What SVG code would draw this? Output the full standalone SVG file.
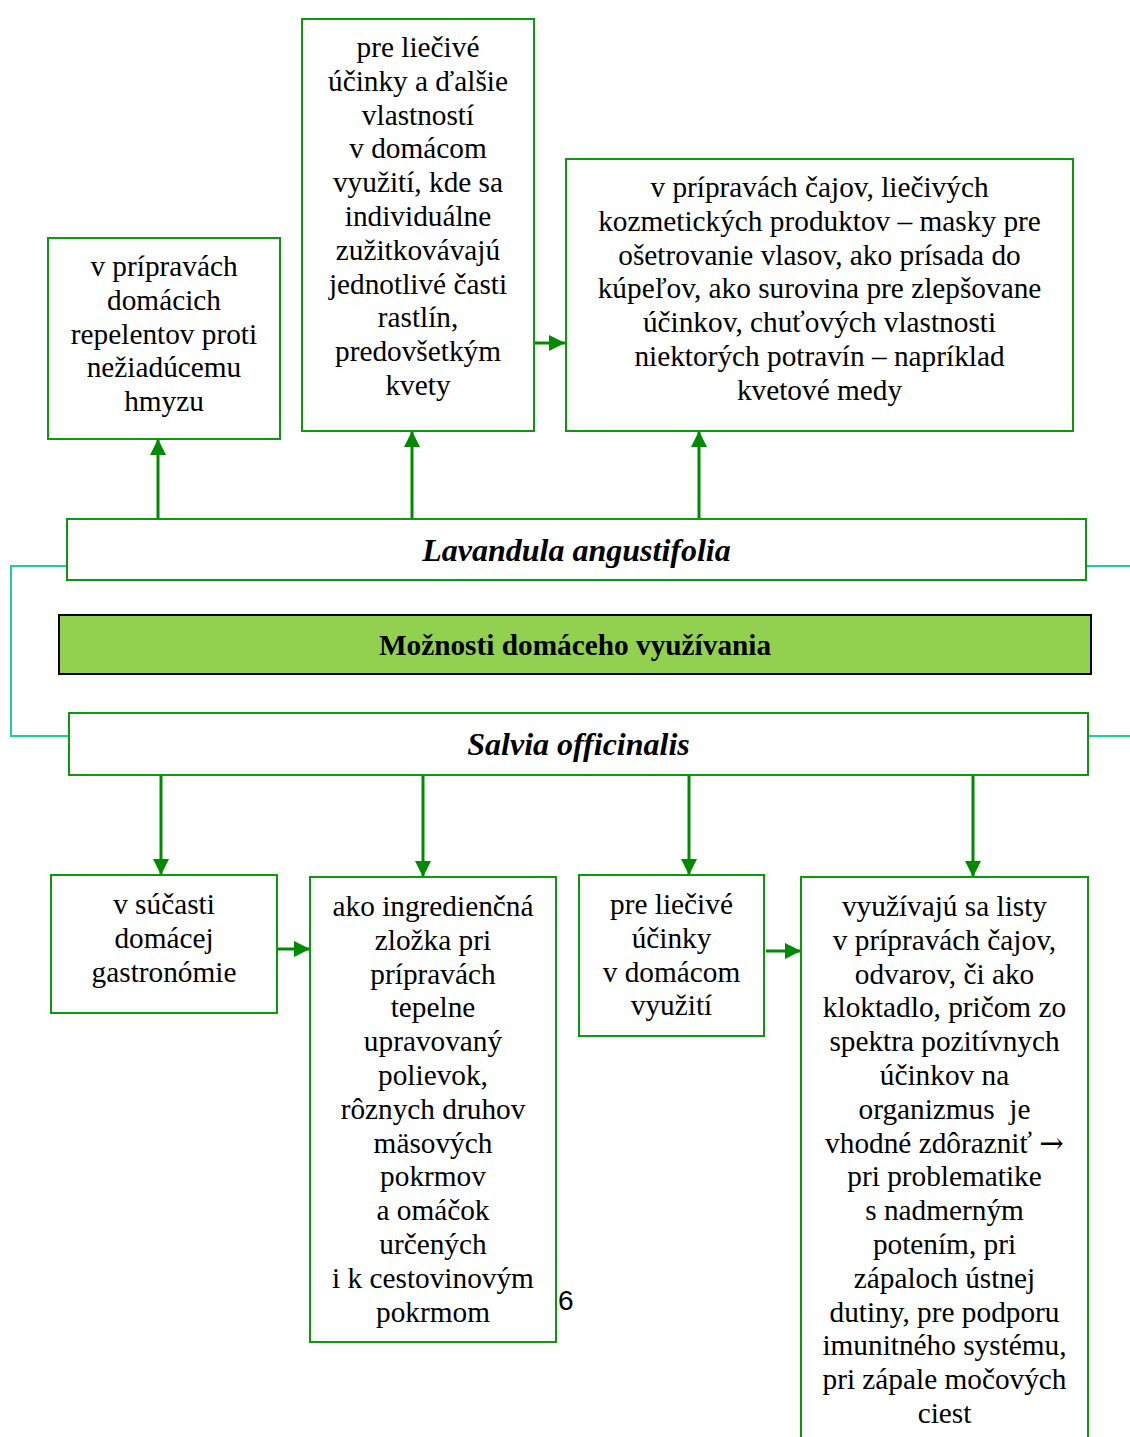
<svg xmlns="http://www.w3.org/2000/svg" width="1130" height="1437" viewBox="0 0 1130 1437">
  <style>
    .box { fill: #ffffff; stroke: #0a9a0a; stroke-width: 2; }
    .title { fill: #92d050; stroke: #000000; stroke-width: 2; }
    .txt { font-family: "Liberation Serif", "Times New Roman", serif; font-size: 29.3px; fill: #000000; text-anchor: middle; }
    .head { font-family: "Liberation Serif", "Times New Roman", serif; font-size: 32px; font-weight: bold; font-style: italic; fill: #000000; text-anchor: middle; }
    .bold { font-family: "Liberation Serif", "Times New Roman", serif; font-size: 29.3px; font-weight: bold; fill: #000000; text-anchor: middle; }
    .sym { font-family: "DejaVu Serif", serif; }
    .arrow { stroke: #008a00; stroke-width: 3; fill: none; marker-end: url(#tip); }
    .link { stroke: #1ccf9f; stroke-width: 2; fill: none; }
    .page { font-family: "Liberation Sans", Arial, sans-serif; font-size: 28px; fill: #000000; }
  </style>
  <defs>
    <marker id="tip" markerUnits="userSpaceOnUse" markerWidth="18" markerHeight="16" refX="16" refY="8" orient="auto">
      <path d="M0,0 L16,8 L0,16 Z" fill="#008a00"/>
    </marker>
  </defs>

  <!-- page number -->
  <text class="page" x="558" y="1310">6</text>

  <!-- connectors -->
  <g id="connectors">
    <path class="link" d="M67,566 H11 V736 H69"/>
    <path class="link" d="M1086,566 H1130"/>
    <path class="link" d="M1088,736 H1130"/>
    <line class="arrow" x1="158" y1="521" x2="158" y2="439"/>
    <line class="arrow" x1="412" y1="519" x2="412" y2="431"/>
    <line class="arrow" x1="699" y1="519" x2="699" y2="431"/>
    <line class="arrow" x1="531" y1="343" x2="565" y2="343"/>
    <line class="arrow" x1="161" y1="775" x2="161" y2="875"/>
    <line class="arrow" x1="423" y1="775" x2="423" y2="877"/>
    <line class="arrow" x1="689" y1="775" x2="689" y2="875"/>
    <line class="arrow" x1="973" y1="775" x2="973" y2="877"/>
    <line class="arrow" x1="277" y1="949" x2="310" y2="949"/>
    <line class="arrow" x1="766" y1="951" x2="801" y2="951"/>
  </g>

  <g id="repelenty">
    <rect class="box" x="48" y="238" width="232" height="201"/>
    <text class="txt"><tspan x="164" y="276">v prípravách</tspan><tspan x="164" y="309.8">domácich</tspan><tspan x="164" y="343.6">repelentov proti</tspan><tspan x="164" y="377.4">nežiadúcemu</tspan><tspan x="164" y="411.2">hmyzu</tspan></text>
  </g>

  <g id="lieciva-levandula">
    <rect class="box" x="302" y="19" width="232" height="412"/>
    <text class="txt"><tspan x="418" y="57">pre liečivé</tspan><tspan x="418" y="90.8">účinky a ďalšie</tspan><tspan x="418" y="124.6">vlastností</tspan><tspan x="418" y="158.4">v domácom</tspan><tspan x="418" y="192.2">využití, kde sa</tspan><tspan x="418" y="226">individuálne</tspan><tspan x="418" y="259.8">zužitkovávajú</tspan><tspan x="418" y="293.6">jednotlivé časti</tspan><tspan x="418" y="327.4">rastlín,</tspan><tspan x="418" y="361.2">predovšetkým</tspan><tspan x="418" y="395">kvety</tspan></text>
  </g>

  <g id="pripravky">
    <rect class="box" x="566" y="159" width="507" height="272"/>
    <text class="txt"><tspan x="819.5" y="197">v prípravách čajov, liečivých</tspan><tspan x="819.5" y="230.8">kozmetických produktov – masky pre</tspan><tspan x="819.5" y="264.6">ošetrovanie vlasov, ako prísada do</tspan><tspan x="819.5" y="298.4">kúpeľov, ako surovina pre zlepšovane</tspan><tspan x="819.5" y="332.2">účinkov, chuťových vlastnosti</tspan><tspan x="819.5" y="366">niektorých potravín – napríklad</tspan><tspan x="819.5" y="399.8">kvetové medy</tspan></text>
  </g>

  <g id="lavandula">
    <rect class="box" x="67" y="519" width="1019" height="61"/>
    <text class="head" x="576.5" y="561">Lavandula angustifolia</text>
  </g>

  <g id="moznosti">
    <rect class="title" x="59" y="615" width="1032" height="59"/>
    <text class="bold" x="575" y="655">Možnosti domáceho využívania</text>
  </g>

  <g id="salvia">
    <rect class="box" x="69" y="713" width="1019" height="62"/>
    <text class="head" x="578.5" y="755">Salvia officinalis</text>
  </g>

  <g id="gastronomia">
    <rect class="box" x="51" y="875" width="226" height="138"/>
    <text class="txt"><tspan x="164" y="914">v súčasti</tspan><tspan x="164" y="947.8">domácej</tspan><tspan x="164" y="981.6">gastronómie</tspan></text>
  </g>

  <g id="ingrediencia">
    <rect class="box" x="310" y="877" width="246" height="465"/>
    <text class="txt"><tspan x="433" y="916">ako ingredienčná</tspan><tspan x="433" y="949.8">zložka pri</tspan><tspan x="433" y="983.6">prípravách</tspan><tspan x="433" y="1017.4">tepelne</tspan><tspan x="433" y="1051.2">upravovaný</tspan><tspan x="433" y="1085">polievok,</tspan><tspan x="433" y="1118.8">rôznych druhov</tspan><tspan x="433" y="1152.6">mäsových</tspan><tspan x="433" y="1186.4">pokrmov</tspan><tspan x="433" y="1220.2">a omáčok</tspan><tspan x="433" y="1254">určených</tspan><tspan x="433" y="1287.8">i k cestovinovým</tspan><tspan x="433" y="1321.6">pokrmom</tspan></text>
  </g>

  <g id="lieciva-salvia">
    <rect class="box" x="579" y="875" width="185" height="161"/>
    <text class="txt"><tspan x="671.5" y="914">pre liečivé</tspan><tspan x="671.5" y="947.8">účinky</tspan><tspan x="671.5" y="981.6">v domácom</tspan><tspan x="671.5" y="1015.4">využití</tspan></text>
  </g>

  <g id="listy">
    <rect class="box" x="801" y="877" width="287" height="580"/>
    <text class="txt" xml:space="preserve"><tspan x="944.5" y="916">využívajú sa listy</tspan><tspan x="944.5" y="949.8">v prípravách čajov,</tspan><tspan x="944.5" y="983.6">odvarov, či ako</tspan><tspan x="944.5" y="1017.4">kloktadlo, pričom zo</tspan><tspan x="944.5" y="1051.2">spektra pozitívnych</tspan><tspan x="944.5" y="1085">účinkov na</tspan><tspan x="944.5" y="1118.8">organizmus  je</tspan><tspan x="944.5" y="1152.6">vhodné zdôrazniť <tspan class="sym">→</tspan></tspan><tspan x="944.5" y="1186.4">pri problematike</tspan><tspan x="944.5" y="1220.2">s nadmerným</tspan><tspan x="944.5" y="1254">potením, pri</tspan><tspan x="944.5" y="1287.8">zápaloch ústnej</tspan><tspan x="944.5" y="1321.6">dutiny, pre podporu</tspan><tspan x="944.5" y="1355.4">imunitného systému,</tspan><tspan x="944.5" y="1389.2">pri zápale močových</tspan><tspan x="944.5" y="1423">ciest</tspan></text>
  </g>
</svg>
